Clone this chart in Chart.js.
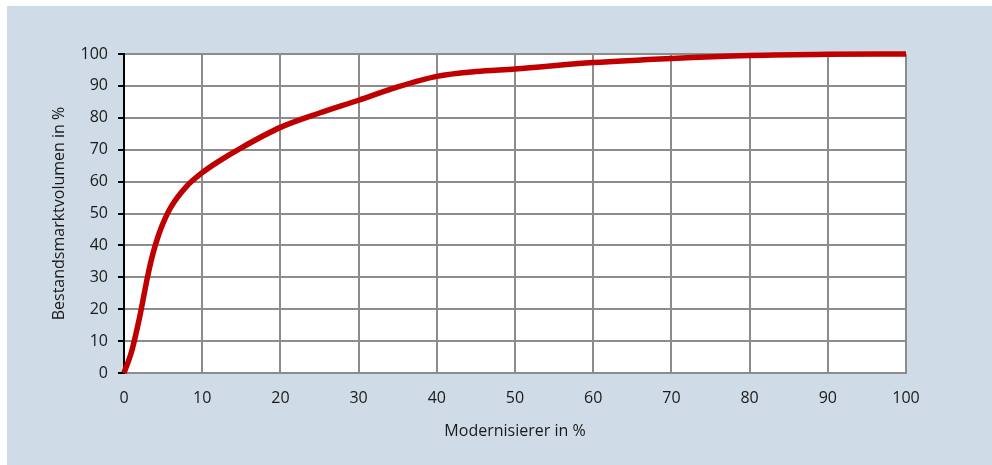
<!DOCTYPE html>
<html>
<head>
<meta charset="utf-8">
<script src="https://cdn.jsdelivr.net/npm/chart.js@4"></script>
<style>
  html, body { margin: 0; padding: 0; background: #fff; }
  #wrap { position: absolute; left: 7px; top: 6px; width: 985px; height: 459px; background: #cfdbe6; }
</style>
</head>
<body>
<div id="wrap"><canvas id="curveChart"></canvas></div>
<script>
// Modernisierer (x) vs. Bestandsmarktvolumen (y), both in %
const modernisierer = [0, 1, 2, 3, 3.5, 4, 4.5, 5, 6, 8, 10, 12, 15, 20, 25, 30, 35, 40, 45, 50, 60, 70, 80, 90, 100];
const marktvolumen = [0, 7, 17.5, 30, 35.5, 40, 43.8, 47, 52, 58.5, 62.8, 66.2, 70.6, 77, 81.5, 85.5, 89.7, 93, 94.5, 95.3, 97.3, 98.6, 99.5, 99.9, 100];
const tickValues = [0, 10, 20, 30, 40, 50, 60, 70, 80, 90, 100];

const fontFamily = "'Open Sans', sans-serif";

// white plot area
const plotBackground = {
  id: 'plotBackground',
  beforeDraw(chart) {
    const { ctx, chartArea } = chart;
    ctx.save();
    ctx.fillStyle = '#ffffff';
    ctx.fillRect(chartArea.left, chartArea.top, chartArea.right - chartArea.left, chartArea.bottom - chartArea.top);
    ctx.restore();
  }
};

const points = modernisierer.map((x, i) => ({ x: x, y: marktvolumen[i] }));

const ctx = document.getElementById('curveChart').getContext('2d');
new Chart(ctx, {
  type: 'line',
  data: {
    datasets: [{
      data: points,
      borderColor: '#c00000',
      borderWidth: 5.5,
      pointRadius: 0,
      cubicInterpolationMode: 'monotone',
      clip: 6
    }]
  },
  options: {
    responsive: true,
    maintainAspectRatio: false,
    animation: false,
    layout: { padding: { left: 39, top: 48, right: 86, bottom: 24 } },
    plugins: { legend: { display: false }, tooltip: { enabled: false } },
    scales: {
      x: {
        type: 'linear',
        min: 0,
        max: 100,
        afterBuildTicks: (axis) => { axis.ticks = tickValues.map(v => ({ value: v })); },
        afterFit: (axis) => { axis.height = 68; },
        grid: { color: '#8c8c8c', lineWidth: 2, drawTicks: false },
        border: { color: '#8c8c8c', width: 2 },
        ticks: { color: '#1a1a1a', padding: 16, maxRotation: 0, font: { family: fontFamily, size: 16 } },
        title: {
          display: true,
          text: 'Modernisierer in %',
          color: '#1a1a1a',
          padding: { top: 4, bottom: 0 },
          font: { family: fontFamily, size: 16 }
        }
      },
      y: {
        min: 0,
        max: 100,
        afterBuildTicks: (axis) => { axis.ticks = tickValues.map(v => ({ value: v })); },
        afterFit: (axis) => { axis.width = 78; },
        grid: { color: '#8c8c8c', lineWidth: 2, tickLength: 6, tickColor: '#000' },
        border: { color: '#000', width: 2 },
        ticks: { color: '#1a1a1a', padding: 10, font: { family: fontFamily, size: 16 } },
        title: {
          display: true,
          text: 'Bestandsmarktvolumen in %',
          color: '#1a1a1a',
          padding: 4,
          font: { family: fontFamily, size: 16 }
        }
      }
    }
  },
  plugins: [plotBackground]
});
</script>
</body>
</html>
